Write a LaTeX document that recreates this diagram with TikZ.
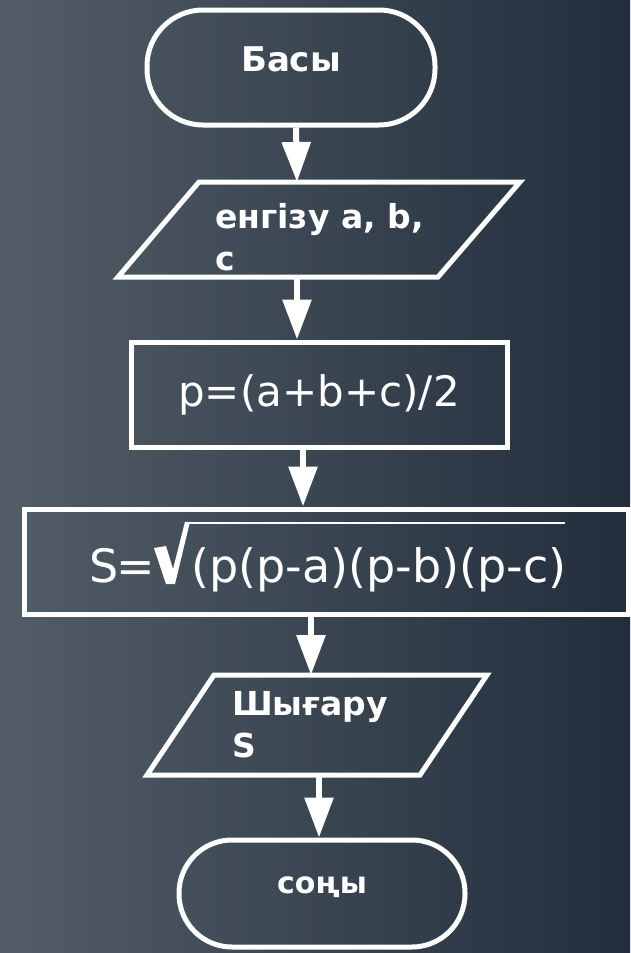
\documentclass[tikz,border=0pt]{standalone}
\usepackage{fontspec}
\setmainfont{DejaVu Sans}
\usetikzlibrary{arrows.meta,positioning}
\definecolor{bgleft}{RGB}{82,93,103}
\definecolor{bgright}{RGB}{34,46,60}

\begin{document}
\begin{tikzpicture}[
  x=1pt, y=-1pt,
  term/.style={draw=white, line width=5pt, rounded corners=56pt, inner sep=0pt,
    text=white, font=\bfseries\fontsize{34}{40}\selectfont},
  proc/.style={draw=white, line width=5pt, inner sep=0pt,
    text=white, font=\fontsize{42}{48}\selectfont},
  io/.style={draw=white, line width=5pt, line join=miter},
  iotext/.style={text=white, align=left, inner sep=0pt,
    font=\bfseries\fontsize{33}{42}\selectfont},
  arr/.style={draw=white, line width=6pt, -{Triangle[length=40pt,width=28pt]}}
]
%% background
\shade[left color=bgleft, right color=bgright] (0,0) rectangle (630,953);
\useasboundingbox (0,0) rectangle (630,953);
%% terminals and boxes
\node[term, minimum width=288pt, minimum height=115pt,
  text height=25pt, text depth=18pt] (start) at (291,67.5) {Басы};
\draw[io] (199,182) -- (520,182) -- (438,277) -- (118,277) -- cycle;
\coordinate (in-n) at (297,182);
\coordinate (in-s) at (297,277);
\node[iotext, anchor=north west] (in) at (215,203) {енгізу a, b,\\c};
\node[proc, minimum width=376pt, minimum height=105pt,
  text height=32pt, text depth=9pt] (semip) at (319,394.5) {p=(a+b+c)/2};
\node[proc, minimum width=604pt, minimum height=105pt,
  font=\fontsize{46}{52}\selectfont, text height=50pt, text depth=9pt]
  (area) at (326,561.5) {\hspace{4pt}S\kern-2pt=\hspace{36pt}(p(p-a)(p-b)(p-c)};
% root sign
\fill[white] (154,548) -- (166,546) -- (173,569) -- (185,521.75) -- (190,521.75)
  -- (175,584) -- (166,584) -- cycle;
\draw[white, line width=2.5pt] (187,523) -- (565,523);
\draw[io] (214,675) -- (487,675) -- (420,775) -- (147,775) -- cycle;
\coordinate (out-n) at (311,675);
\coordinate (out-s) at (319,775);
\node[iotext, anchor=north west] (out) at (232,691) {Шығару\\S};
\node[term, minimum width=286pt, minimum height=107pt, rounded corners=53pt,
  font=\bfseries\fontsize{30}{36}\selectfont,
  text height=16pt, text depth=17pt] (stop) at (322,893.5) {соңы};
%% arrows
\draw[arr] ([xshift=5pt]start.south) -- (in-n);
\draw[arr] (in-s) -- (in-s |- semip.north);
\draw[arr] ([xshift=-16pt]semip.south) -- ([xshift=-16pt]semip.south |- area.north);
\draw[arr] ([xshift=-15pt]area.south) -- (out-n);
\draw[arr] (out-s) -- (out-s |- stop.north);
\end{tikzpicture}
\end{document}
